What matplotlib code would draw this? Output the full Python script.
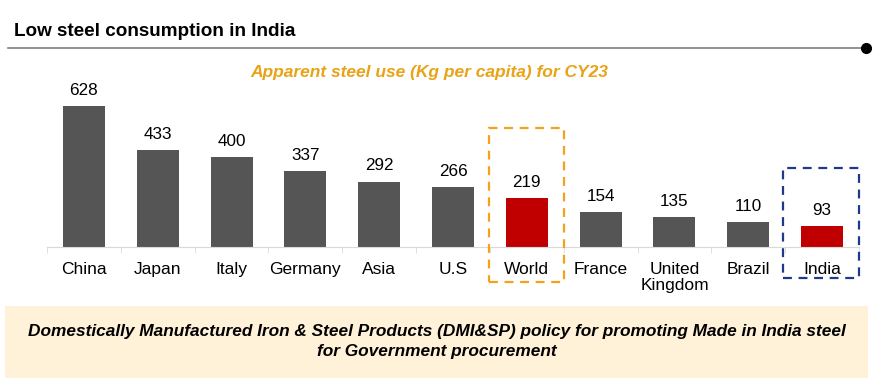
import matplotlib.pyplot as plt
from matplotlib.patches import Rectangle

# Apparent steel use, kg per capita, CY23
countries = ["China", "Japan", "Italy", "Germany", "Asia", "U.S", "World",
             "France", "United\nKingdom", "Brazil", "India"]
steel_use = [628, 433, 400, 337, 292, 266, 219, 154, 135, 110, 93]
highlight = ["World", "India"]

W, H = 892, 387
fig = plt.figure(figsize=(W / 100, H / 100), dpi=100)
plt.rcParams['font.family'] = ['Liberation Sans', 'DejaVu Sans']

# axes placed in pixel terms
ax = fig.add_axes([47 / W, (H - 247) / H, 812 / W, 157 / H])
colors = ['#C00000' if c in highlight else '#555555' for c in countries]
x = range(len(countries))
ax.bar(x, steel_use, width=0.57, color=colors, zorder=2)
for i, v in enumerate(steel_use):
    ax.text(i, v + 36, str(v), ha='center', va='bottom', fontsize=12.3)

ax.set_xlim(-0.5, len(countries) - 0.5)
ax.set_ylim(0, 700)
ax.set_yticks([])
for s in ['top', 'right', 'left']:
    ax.spines[s].set_visible(False)
ax.spines['bottom'].set_color('#D9D9D9')
ax.set_xticks(list(x))
ax.set_xticklabels(countries, fontsize=12.5, va='top', linespacing=1.1)
ax.tick_params(axis='x', length=0, pad=11)
ax.set_xticks([i + 0.5 for i in range(-1, len(countries))], minor=True)
ax.tick_params(axis='x', which='minor', length=4, color='#D9D9D9')

# dashed highlight boxes
iw = countries.index("World")
ax.add_patch(Rectangle((iw - 0.51, -156), 1.02, 687, fill=False, ls=(0, (4, 3)),
                       lw=1.6, ec='#F5A21B', clip_on=False, zorder=3))
ii = countries.index("India")
ax.add_patch(Rectangle((ii - 0.53, -138), 1.03, 491, fill=False, ls=(0, (4, 3)),
                       lw=1.6, ec='#1F3A8A', clip_on=False, zorder=3))

# header
fig.text(14 / W, 1 - 32 / H, "Low steel consumption in India", fontsize=13.6,
         fontweight='bold', va='center', ha='left')
fig.add_artist(plt.Line2D([8 / W, 866 / W], [1 - 48 / H, 1 - 48 / H],
                          color='#7F7F7F', lw=1.2))
fig.add_artist(plt.Line2D([866 / W], [1 - 48 / H], marker='o', ms=7,
                          color='black'))
fig.text(429 / W, 1 - 73 / H, "Apparent steel use (Kg per capita) for CY23",
         fontsize=12.5, fontweight='bold', style='italic', color='#E8A317',
         ha='center', va='center')

# bottom note box
fig.add_artist(Rectangle((5 / W, 1 - 378 / H), 863 / W, 72 / H,
                         transform=fig.transFigure, fc='#FFF2D9', ec='none'))
fig.text(437 / W, 1 - 341.5 / H,
         "Domestically Manufactured Iron & Steel Products (DMI&SP) policy for promoting Made in India steel\nfor Government procurement",
         fontsize=12.4, fontweight='bold', style='italic', ha='center',
         va='center', linespacing=1.45)

fig.savefig('out.png', dpi=100)
